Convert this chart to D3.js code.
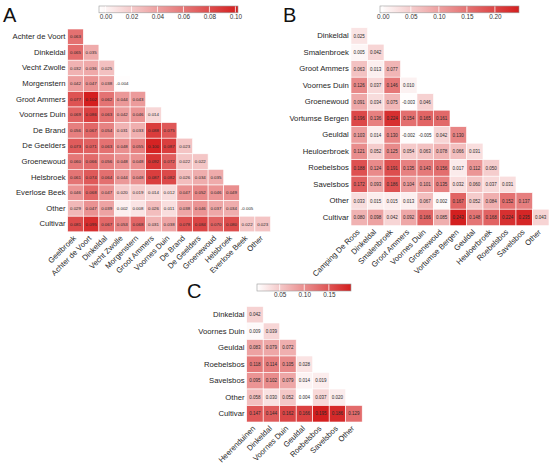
<!DOCTYPE html>
<html><head><meta charset="utf-8">
<script src="https://cdn.jsdelivr.net/npm/d3@7"></script>
<style>body{margin:0;background:#fff} svg{display:block}</style>
</head><body><svg id="chart" width="550" height="465"></svg>
<script>
// ---------- Panel A ----------
const rowsA = ["Achter de Voort","Dinkeldal","Vecht Zwolle","Morgenstern","Groot Ammers","Voornes Duin","De Brand","De Geelders","Groenewoud","Helsbroek","Everlose Beek","Other","Cultivar"];
const colsA = ["Geelbroek","Achter de Voort","Dinkeldal","Vecht Zwolle","Morgenstern","Groot Ammers","Voornes Duin","De Brand","De Geelders","Groenewoud","Helsbroek","Everlose Beek","Other"];
const valuesA = [
  [0.063],
  [0.065,0.035],
  [0.032,0.036,0.025],
  [0.042,0.047,0.038,-0.004],
  [0.077,0.102,0.062,0.044,0.043],
  [0.069,0.086,0.063,0.042,0.046,0.014],
  [0.056,0.067,0.054,0.031,0.033,0.088,0.075],
  [0.073,0.071,0.063,0.048,0.055,0.100,0.087,0.023],
  [0.060,0.066,0.056,0.048,0.048,0.092,0.072,0.022,0.022],
  [0.061,0.074,0.064,0.044,0.048,0.087,0.082,0.026,0.034,0.035],
  [0.046,0.068,0.047,0.020,0.019,0.014,0.012,0.047,0.052,0.046,0.049],
  [0.029,0.047,0.039,0.002,0.008,0.026,0.011,0.038,0.046,0.037,0.034,-0.005],
  [0.081,0.095,0.067,0.053,0.068,0.031,0.038,0.078,0.084,0.070,0.080,0.022,0.023]
];
const ticksA = [0.00,0.02,0.04,0.06,0.08,0.10];

// ---------- Panel B ----------
const rowsB = ["Dinkeldal","Smalenbroek","Groot Ammers","Voornes Duin","Groenewoud","Vortumse Bergen","Geuldal","Heuloerbroek","Roebelsbos","Savelsbos","Other","Cultivar"];
const colsB = ["Camping De Roos","Dinkeldal","Smalenbroek","Groot Ammers","Voornes Duin","Groenewoud","Vortumse Bergen","Geuldal","Heuloerbroek","Roebelsbos","Savelsbos","Other"];
const valuesB = [
  [0.025],
  [0.005,0.042],
  [0.063,0.013,0.077],
  [0.126,0.037,0.146,0.010],
  [0.091,0.034,0.075,-0.003,0.046],
  [0.196,0.136,0.224,0.154,0.165,0.161],
  [0.103,0.014,0.130,-0.002,-0.005,0.042,0.130],
  [0.121,0.052,0.125,0.054,0.063,0.078,0.066,0.031],
  [0.188,0.124,0.191,0.135,0.143,0.156,0.017,0.112,0.050],
  [0.172,0.093,0.186,0.104,0.101,0.135,0.032,0.060,0.037,0.031],
  [0.033,0.015,0.015,0.013,0.067,0.002,0.167,0.052,0.084,0.152,0.137],
  [0.080,0.098,0.042,0.092,0.166,0.085,0.243,0.148,0.168,0.224,0.235,0.043]
];
const ticksB = [0.00,0.05,0.10,0.15,0.20];

// ---------- Panel C ----------
const rowsC = ["Dinkeldal","Voornes Duin","Geuldal","Roebelsbos","Savelsbos","Other","Cultivar"];
const colsC = ["Heerenduinen","Dinkeldal","Voornes Duin","Geuldal","Roebelsbos","Savelsbos","Other"];
const valuesC = [
  [0.042],
  [0.009,0.039],
  [0.083,0.079,0.072],
  [0.118,0.114,0.105,0.028],
  [0.095,0.102,0.079,0.014,0.019],
  [0.058,0.030,0.052,0.004,0.037,0.020],
  [0.147,0.144,0.162,0.166,0.195,0.186,0.129]
];
const ticksC = [0.05,0.10,0.15];

const FONT = '"Liberation Sans", Arial, Helvetica, sans-serif';
const HIGH = "#d41f1f";
const svg = d3.select("#chart");
const defs = svg.append("defs");

function drawPanel(id, cfg) {
  const g = svg.append("g").attr("font-family", FONT);
  const n = cfg.rows.length;
  const x = d3.scaleBand().domain(cfg.cols).range([cfg.left, cfg.left + cfg.size * cfg.cols.length]);
  const y = d3.scaleBand().domain(cfg.rows).range([cfg.top, cfg.top + cfg.size * n]);
  const ext = d3.extent(cfg.values.flat());
  const color = d3.scaleLinear().domain(ext).range(["#ffffff", HIGH]).interpolate(d3.interpolateRgb);

  const cells = [];
  cfg.values.forEach((r, i) => r.forEach((v, j) => cells.push({row: cfg.rows[i], col: cfg.cols[j], v})));

  g.selectAll("rect.cell").data(cells).join("rect").attr("class","cell")
    .attr("x", d => x(d.col)).attr("y", d => y(d.row))
    .attr("width", x.bandwidth()).attr("height", y.bandwidth())
    .attr("fill", d => color(d.v)).attr("stroke", "#ffffff").attr("stroke-width", 0.6);
  g.selectAll("text.val").data(cells).join("text").attr("class","val")
    .attr("x", d => x(d.col) + x.bandwidth()/2).attr("y", d => y(d.row) + y.bandwidth()/2)
    .attr("dy", "0.35em").attr("text-anchor", "middle")
    .attr("font-size", cfg.valSize).attr("fill", "#2a2a2a")
    .text(d => d.v.toFixed(3));

  // row labels
  const ya = g.append("g").attr("transform", `translate(${cfg.left},0)`)
    .call(d3.axisLeft(y).tickSize(0).tickPadding(2.2));
  ya.select(".domain").remove();
  ya.attr("font-family", FONT).attr("font-size", cfg.labelSize);
  ya.selectAll("text").attr("fill", "#1e1e1e");

  // column labels
  const xa = g.append("g").attr("transform", `translate(0,${cfg.top + cfg.size * n})`)
    .call(d3.axisBottom(x).tickSize(0));
  xa.select(".domain").remove();
  xa.attr("font-family", FONT).attr("font-size", cfg.labelSize);
  xa.selectAll("text").attr("fill", "#1e1e1e")
    .attr("x", 0).attr("y", 0).attr("dy", "0.35em")
    .attr("text-anchor", "end")
    .attr("transform", `translate(${cfg.xOff[0]},${cfg.xOff[1]}) rotate(-45)`);

  // colorbar
  const cb = cfg.cb;
  const cbScale = d3.scaleLinear().domain(ext).range([cb.x, cb.x + cb.w]);
  const grad = defs.append("linearGradient").attr("id", "grad" + id)
    .attr("x1", "0%").attr("x2", "100%").attr("y1", "0%").attr("y2", "0%");
  d3.range(0, 1.0001, 0.1).forEach(t => {
    grad.append("stop").attr("offset", (t*100) + "%").attr("stop-color", color(ext[0] + t*(ext[1]-ext[0])));
  });
  g.append("rect").attr("x", cb.x).attr("y", cb.y).attr("width", cb.w).attr("height", cb.h)
    .attr("fill", `url(#grad${id})`).attr("stroke", "#9a9a9a").attr("stroke-width", 0.6);
  g.selectAll("line.cbt").data(cfg.ticks).join("line").attr("class","cbt")
    .attr("x1", d => cbScale(d)).attr("x2", d => cbScale(d))
    .attr("y1", cb.y + 0.4).attr("y2", cb.y + cb.h - 0.4)
    .attr("stroke", "#ffffff").attr("stroke-width", 0.8);
  const ca = g.append("g").attr("transform", `translate(0,${cb.y + cb.h})`)
    .call(d3.axisBottom(cbScale).tickValues(cfg.ticks).tickSize(0).tickPadding(1.8).tickFormat(d3.format(".2f")));
  ca.select(".domain").remove();
  ca.attr("font-family", FONT).attr("font-size", cb.fs);
  ca.selectAll("text").attr("fill", "#333");

  // panel letter
  g.append("text").attr("x", cfg.letter.x).attr("y", cfg.letter.y)
    .attr("font-size", 20).attr("fill", "#111").text(cfg.letter.t);
}

drawPanel("A", {rows: rowsA, cols: colsA, values: valuesA, ticks: ticksA,
  left: 67.7, top: 29, size: 15.6, valSize: 4.4, labelSize: 7.7, xOff: [-1, 5],
  cb: {x: 99, y: 6, w: 139, h: 6.8, fs: 6.4},
  letter: {x: 3, y: 22, t: "A"}});

drawPanel("B", {rows: rowsB, cols: colsB, values: valuesB, ticks: ticksB,
  left: 351, top: 27.7, size: 16.5, valSize: 4.5, labelSize: 7.7, xOff: [-1, 5],
  cb: {x: 380, y: 6, w: 139, h: 6.8, fs: 6.4},
  letter: {x: 283, y: 22, t: "B"}});

drawPanel("C", {rows: rowsC, cols: colsC, values: valuesC, ticks: ticksC,
  left: 246.7, top: 306.5, size: 16.5, valSize: 4.5, labelSize: 7.7, xOff: [-1, 5],
  cb: {x: 257, y: 284, w: 94, h: 7, fs: 6.4},
  letter: {x: 187, y: 298, t: "C"}});
</script>
</body></html>
